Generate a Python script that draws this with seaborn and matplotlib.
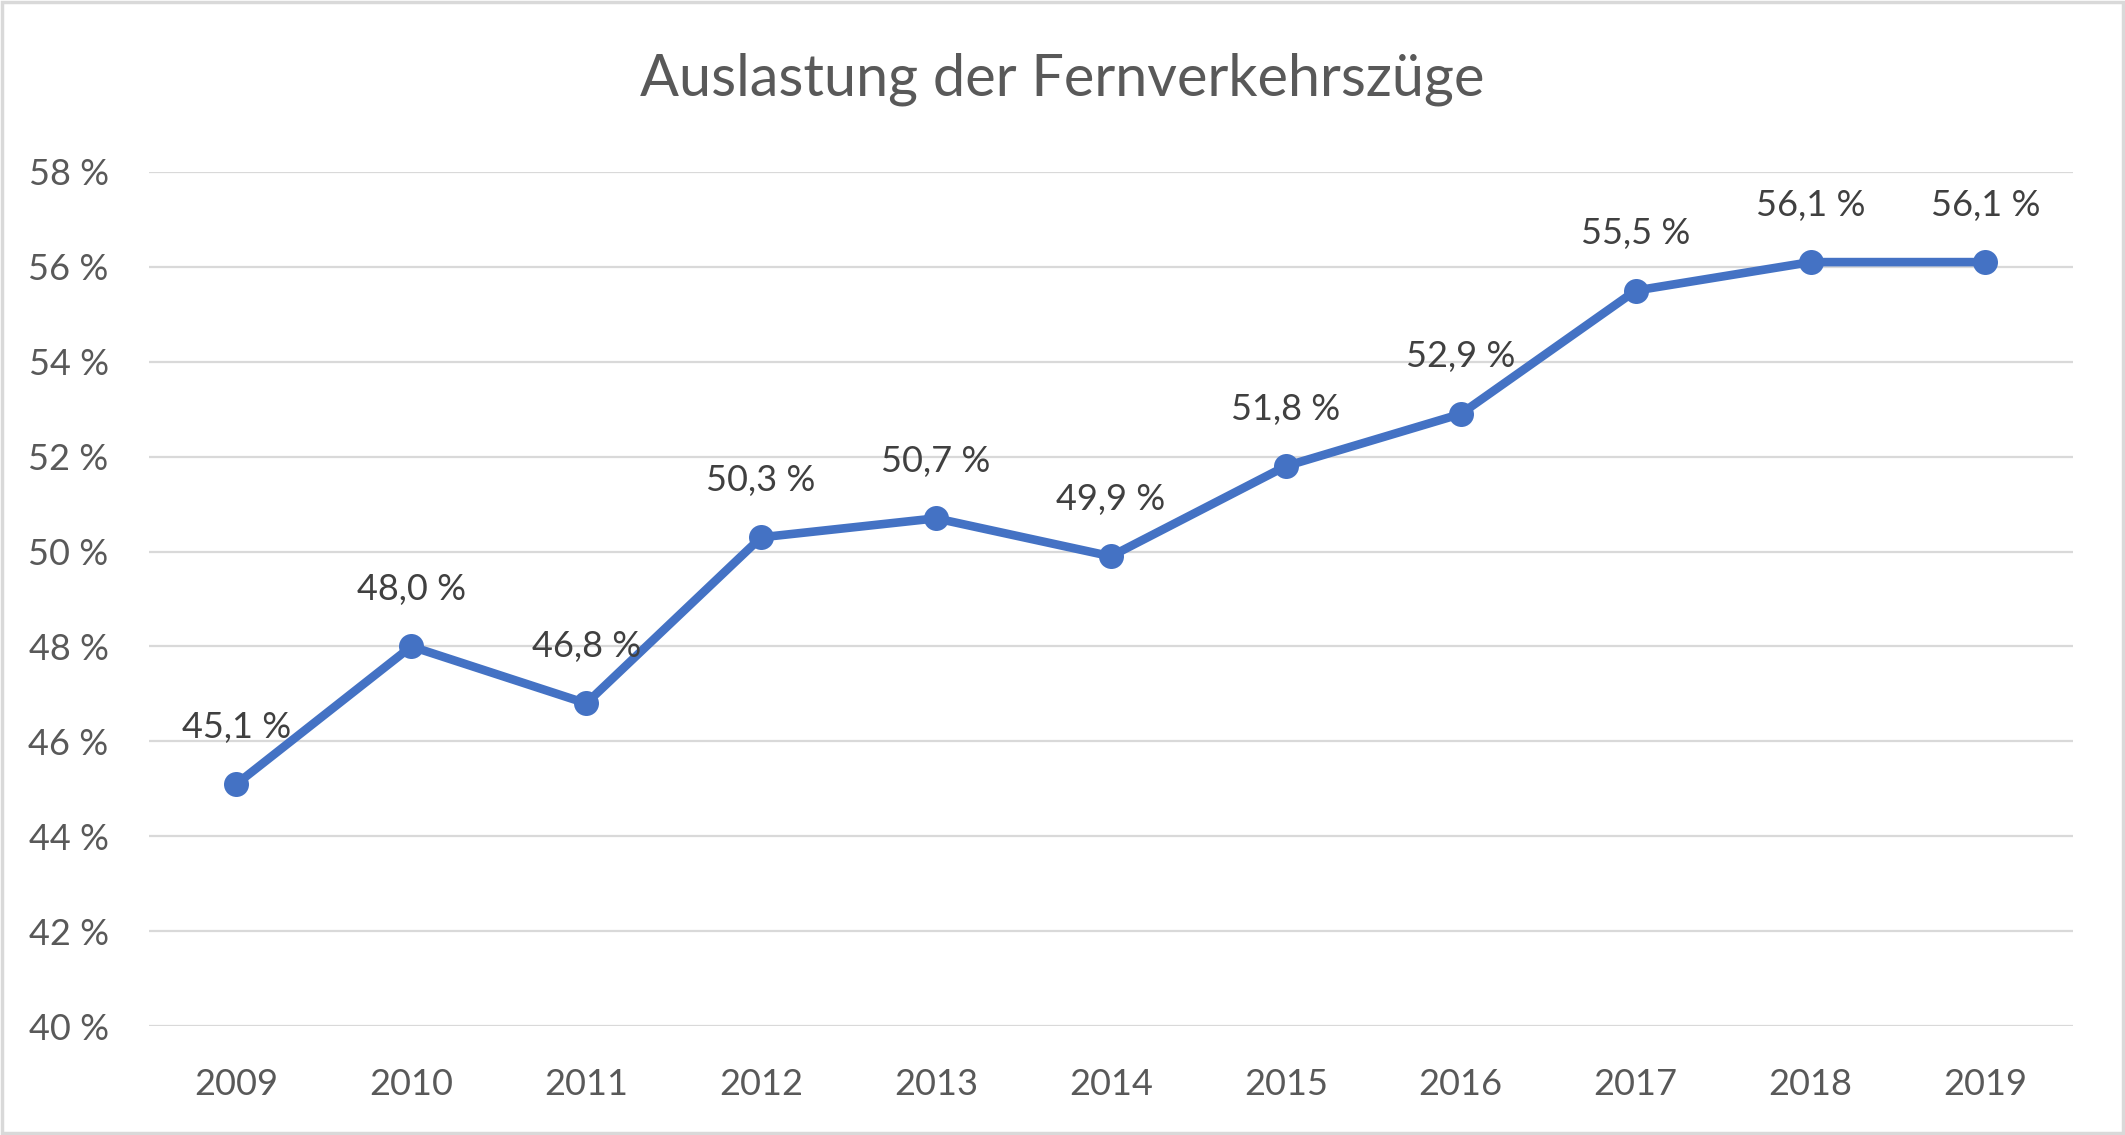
import pandas as pd
import numpy as np
import matplotlib.pyplot as plt
from matplotlib.patches import Rectangle
import seaborn as sns

years = ["2009", "2010", "2011", "2012", "2013", "2014", "2015", "2016", "2017", "2018", "2019"]
auslastung = [45.1, 48.0, 46.8, 50.3, 50.7, 49.9, 51.8, 52.9, 55.5, 56.1, 56.1]
y_ticks = [40, 42, 44, 46, 48, 50, 52, 54, 56, 58]

df = pd.DataFrame({"Jahr": years, "Auslastung": auslastung})

sns.set_style("white")
plt.rcParams["font.family"] = ["Lato", "DejaVu Sans"]

fig = plt.figure(figsize=(21.25, 11.35), dpi=100)
ax = fig.add_axes([0.0701, 0.096, 0.9054, 0.7525])

ax.set_axisbelow(True)
for t in y_ticks:
    ax.axhline(t, color="#D9D9D9", lw=1.6, zorder=0)

sns.lineplot(data=df, x="Jahr", y="Auslastung", ax=ax, color="#4472C4",
             linewidth=6.2, marker="o", markersize=18, markeredgewidth=0,
             clip_on=False, zorder=3)

for i, v in enumerate(auslastung):
    ax.annotate(f"{v:.1f} %".replace(".", ","), (i, v), textcoords="offset points",
                xytext=(0, 41), ha="center", va="center", fontsize=26, color="#404040")

ax.set_xlim(-0.5, len(years) - 0.5)
ax.set_ylim(40, 58)
ax.set_yticks(y_ticks)
ax.set_yticklabels([f"{t} %" for t in y_ticks])
ax.set(xlabel="", ylabel="")
ax.tick_params(axis="both", length=0, labelsize=26, labelcolor="#595959")
ax.tick_params(axis="y", pad=29)
ax.tick_params(axis="x", pad=30)
for s in ax.spines.values():
    s.set_visible(False)

fig.text(0.5, 1 - 79 / 1135, "Auslastung der Fernverkehrszüge", ha="center", va="center",
         fontsize=41.5, color="#595959")

fig.patches.append(Rectangle((0.001, 0.002), 0.998, 0.996, transform=fig.transFigure,
                             fill=False, edgecolor="#D9D9D9", lw=2.5))

plt.savefig("out.png", dpi=100)
